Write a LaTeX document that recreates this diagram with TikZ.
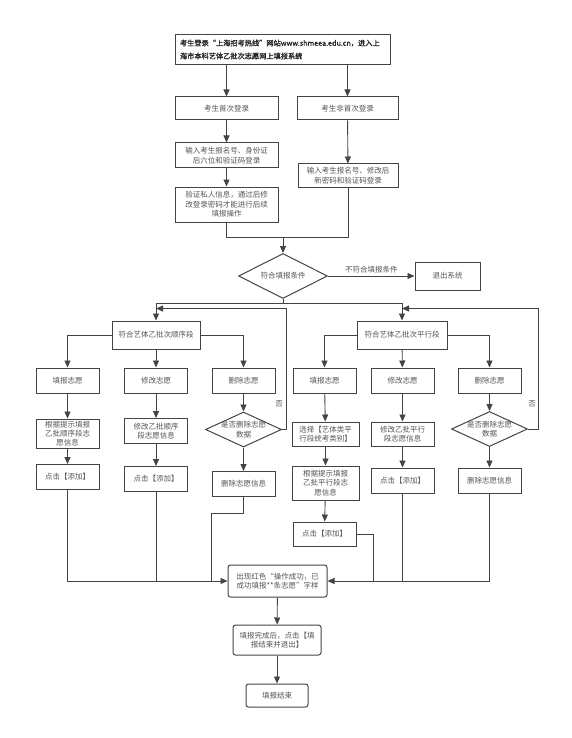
\documentclass[tikz,border=0pt]{standalone}
\usepackage{fontspec}
\setmainfont{Noto Sans CJK SC}
\newfontfamily\cjkbold[FakeBold=1.2]{Noto Sans CJK SC}
\usetikzlibrary{arrows.meta,shapes.geometric}
\definecolor{lc}{HTML}{444444}
\definecolor{tc}{HTML}{555555}
\begin{document}
\begin{tikzpicture}[x=1pt,y=-1pt,
  box/.style={draw=lc, line width=1pt, fill=white, inner sep=1pt, align=center,
    font=\fontsize{7.5}{9.6}\selectfont, text=tc},
  rbox/.style={box, rounded corners=2.5pt},
  dia/.style={draw=lc, line width=1pt, fill=white, shape=diamond, inner sep=0pt},
  lab/.style={font=\fontsize{7.5}{9.6}\selectfont, text=tc, inner sep=1pt},
  ln/.style={draw=lc, line width=0.9pt},
  ar/.style={ln, -{Triangle[length=7pt,width=6pt]}},
]
\useasboundingbox[fill=white] (0,0) rectangle (572,738);

% top part
\node[box, text width=205pt, align=left, inner sep=5pt, minimum height=29pt, text=black!85,
  font=\cjkbold\fontsize{7.2}{13}\selectfont] (top) at (282.5,49.5)
  {考生登录“上海招考热线”网站www.shmeea.edu.cn，进入上\\海市本科艺体乙批次志愿网上填报系统};
\node[box, minimum width=103pt, minimum height=23pt] (first) at (226.5,108.5) {考生首次登录};
\node[box, minimum width=101pt, minimum height=23pt] (nonfirst) at (347.5,108.5) {考生非首次登录};
\node[box, minimum width=103pt, minimum height=25pt] (input1) at (226.5,155.5) {输入考生报名号、身份证\\后六位和验证码登录};
\node[box, minimum width=103pt, minimum height=35pt] (verify) at (226.5,204.5) {验证私人信息，通过后修\\改登录密码才能进行后续\\填报操作};
\node[box, minimum width=100pt, minimum height=23pt] (input2) at (348,175.5) {输入考生报名号、修改后\\新密码和验证码登录};
\node[dia, minimum width=89pt, minimum height=45pt, label={[lab]center:符合填报条件}] (cond) at (283,276) {};
\node[box, minimum width=65pt, minimum height=28pt] (exit) at (447.5,276) {退出系统};

% main branches
\node[box, minimum width=88pt, minimum height=28pt] (mainL) at (156,335) {符合艺体乙批次顺序段};
\node[box, minimum width=90pt, minimum height=28pt] (mainR) at (402,335) {符合艺体乙批次平行段};

% row 1
\node[box, minimum width=63pt, minimum height=25pt] (a1) at (67.5,380.5) {填报志愿};
\node[box, minimum width=63pt, minimum height=25pt] (a2) at (156,380.5) {修改志愿};
\node[box, minimum width=63pt, minimum height=25pt] (a3) at (243.5,380.5) {删除志愿};
\node[box, minimum width=63pt, minimum height=25pt] (a4) at (324.5,380.5) {填报志愿};
\node[box, minimum width=63pt, minimum height=25pt] (a5) at (402.5,380.5) {修改志愿};
\node[box, minimum width=63pt, minimum height=25pt] (a6) at (489.5,380.5) {删除志愿};

% column 1
\node[box, minimum width=63pt, minimum height=29pt, inner sep=0pt, font=\fontsize{7.5}{9}\selectfont] (b1) at (67.5,433.5) {根据提示填报\\乙批顺序段志\\愿信息};
\node[box, minimum width=63pt, minimum height=25pt] (c1) at (67.5,477) {点击【添加】};
% column 2
\node[box, minimum width=63pt, minimum height=25pt] (b2) at (156,431) {修改乙批顺序\\段志愿信息};
\node[box, minimum width=63pt, minimum height=25pt] (c2) at (156,479) {点击【添加】};
% column 3
\node[dia, minimum width=76pt, minimum height=35pt, label={[lab, align=center]center:是否删除志愿\\数据}] (d3) at (243.5,429.5) {};
\node[box, minimum width=63pt, minimum height=25pt] (e3) at (243.5,484) {删除志愿信息};
% column 4
\node[box, minimum width=67pt, minimum height=24pt] (b4) at (325.5,434) {选择【艺体类平\\行段统考类别】};
\node[box, minimum width=67pt, minimum height=34pt] (c4) at (325.5,483) {根据提示填报\\乙批平行段志\\愿信息};
\node[box, minimum width=63pt, minimum height=24pt] (d4) at (324.5,534) {点击【添加】};
% column 5
\node[box, minimum width=63pt, minimum height=24pt] (b5) at (402.5,434) {修改乙批平行\\段志愿信息};
\node[box, minimum width=63pt, minimum height=25pt] (c5) at (402.5,480.5) {点击【添加】};
% column 6
\node[dia, minimum width=76pt, minimum height=35pt, label={[lab, align=center]center:是否删除志愿\\数据}] (d6) at (489.5,429) {};
\node[box, minimum width=63pt, minimum height=25pt] (e6) at (489.5,480.5) {删除志愿信息};

% bottom
\node[rbox, minimum width=99pt, minimum height=32pt] (merge) at (277.5,581) {出现红色“操作成功，已\\成功填报**条志愿”字样};
\node[rbox, minimum width=88pt, minimum height=30pt] (finish) at (277,640) {填报完成后，点击【填\\报结束并退出】};
\node[rbox, minimum width=62pt, minimum height=23pt] (end) at (277,695.5) {填报结束};

% labels
\node[lab] (no1) at (279,404) {否};
\node[lab] (no2) at (532,404) {否};

% coordinates
\coordinate (j1) at (283,237);
\coordinate (j2) at (283,303);
\coordinate (fbL) at (156,308.5);
\coordinate (fbR) at (402,308.5);
\coordinate (pL) at (286,429.5);
\coordinate (pR) at (538,429);
\coordinate (k3) at (211,513);
\coordinate (k4) at (373,534);

% connectors top
\draw[ar] (first.north |- top.south) -- (first.north);
\draw[ar] (nonfirst.north |- top.south) -- (nonfirst.north);
\draw[ar] (first) -- (input1);
\draw[ar] (input1) -- (verify);
\draw[ar] (nonfirst) -- (input2);
\draw[ln] (verify.south) |- (j1);
\draw[ln] (input2.south) |- (j1);
\draw[ar] (j1) -- (cond.north);
\draw[ar] (cond.east) -- (exit.west) node[lab, midway, above=1pt] {不符合填报条件};
\draw[ln] (cond.south) -- (j2);
\draw[ar] (j2) -| (mainL.north);
\draw[ar] (j2) -| (mainR.north);

% left branch
\draw[ar] (mainL.west) -| (a1.north);
\draw[ar] (mainL) -- (a2);
\draw[ar] (mainL.east) -| (a3.north);
\draw[ar] (a1) -- (b1);
\draw[ar] (b1) -- (c1);
\draw[ar] (a2) -- (b2);
\draw[ar] (b2) -- (c2);
\draw[ar] (a3) -- (d3);
\draw[ar] (d3) -- (e3);
\draw[ar] (d3.east) -- (pL) |- (fbL);

% right branch
\draw[ar] (mainR.west) -| (a4.north);
\draw[ar] (mainR) -- (a5);
\draw[ar] (mainR.east) -| (a6.north);
\draw[ar] (a4) -- (b4);
\draw[ar] (b4) -- (c4);
\draw[ar] (c4) -- (d4);
\draw[ar] (a5) -- (b5);
\draw[ar] (b5) -- (c5);
\draw[ar] (a6) -- (d6);
\draw[ar] (d6) -- (e6);
\draw[ar] (d6.east) -- (pR) |- (fbR);

% merge
\draw[ar] (c1.south) |- (merge.west);
\draw[ln] (c2.south) -- (c2.south |- merge.west);
\draw[ln] (e3.south) -- (e3.south |- k3) -- (k3) -- (k3 |- merge.west);
\draw[ar] (e6.south) |- (merge.east);
\draw[ln] (c5.south) -- (c5.south |- merge.east);
\draw[ln] (d4.east) -- (k4) -- (k4 |- merge.east);
\draw[ar] (merge) -- (finish);
\draw[ar] (finish) -- (end);
\end{tikzpicture}
\end{document}
